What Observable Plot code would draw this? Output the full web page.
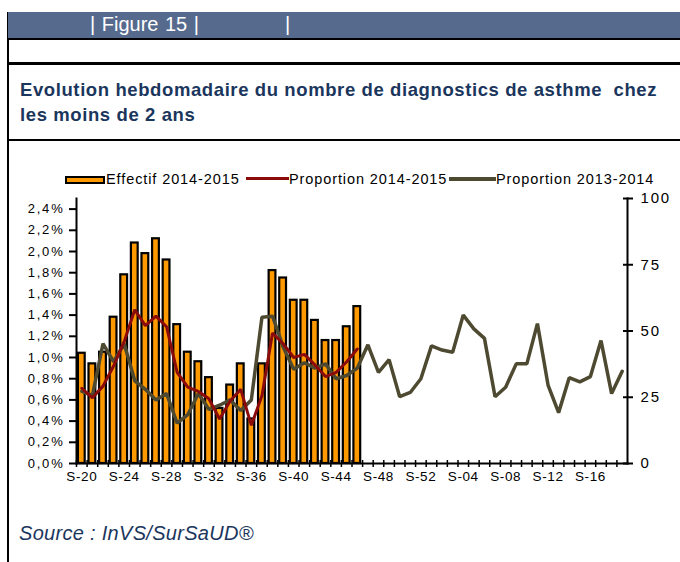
<!DOCTYPE html>
<html><head><meta charset="utf-8">
<script src="https://cdn.jsdelivr.net/npm/d3@7"></script>
<script src="https://cdn.jsdelivr.net/npm/@observablehq/plot@0.6"></script>
<style>
body{margin:0;background:#fff;font-family:"Liberation Sans",Arial,sans-serif;}
#wrap{position:relative;width:680px;height:562px;overflow:hidden;background:#fff;}
.abs{position:absolute;}
#header{left:8px;top:12px;width:672px;height:26px;background:#566a8d;}
#header span{position:absolute;top:1px;color:#fff;font-size:20px;white-space:pre;}
#title{left:20px;top:77px;color:#1b365d;font-weight:bold;font-size:18.5px;letter-spacing:0.6px;line-height:25px;white-space:pre;}
#source{left:19px;top:522px;color:#1b365d;font-style:italic;font-size:20px;letter-spacing:0.3px;white-space:pre;}
.leg{position:absolute;top:171px;font-size:14.5px;letter-spacing:0.9px;color:#000;white-space:pre;}
#chart{position:absolute;left:0;top:150px;}
#chart svg g[aria-label="y-axis tick label"] text{letter-spacing:1.8px;}
#chart svg g[aria-label="x-axis tick label"] text{letter-spacing:0.6px;}
</style></head><body><div id="wrap">
<div class="abs" style="left:7px;top:12px;width:2px;height:550px;background:#000"></div>
<div class="abs" id="header"><span style="left:82px;word-spacing:1px">| Figure 15 |</span><span style="left:277px">|</span></div>
<div class="abs" style="left:8px;top:38px;width:672px;height:2px;background:#000"></div>
<div class="abs" style="left:8px;top:62px;width:672px;height:3px;background:#000"></div>
<div class="abs" id="title">Evolution hebdomadaire du nombre de diagnostics de asthme  chez
les moins de 2 ans</div>
<div class="abs" style="left:8px;top:139px;width:672px;height:2px;background:#000"></div>
<div id="legend"></div>
<div id="chart"></div>
<div class="abs" id="source">Source : InVS/SurSaUD®</div>
</div>
<script>
// Categories: weeks S-20 (2014) to S-19 (2015)
const weeks = ["S-20","S-21","S-22","S-23","S-24","S-25","S-26","S-27","S-28","S-29","S-30","S-31","S-32","S-33","S-34","S-35","S-36","S-37","S-38","S-39","S-40","S-41","S-42","S-43","S-44","S-45","S-46","S-47","S-48","S-49","S-50","S-51","S-52","S-01","S-02","S-03","S-04","S-05","S-06","S-07","S-08","S-09","S-10","S-11","S-12","S-13","S-14","S-15","S-16","S-17","S-18","S-19"];
const xTickLabels = ["S-20","S-24","S-28","S-32","S-36","S-40","S-44","S-48","S-52","S-04","S-08","S-12","S-16"];
// Effectif 2014-2015 (right axis, counts)
const effectif20142015 = [41.6,37.6,42,55.2,71.2,83.2,79.2,84.8,76.8,52.4,42,38.4,32.4,20.8,29.6,37.6,16.8,37.6,72.8,70,61.6,61.6,54,46.4,46.4,51.6,59.2];
// Proportion 2014-2015 (left axis, %)
const proportion20142015 = [0.71,0.62,0.73,0.92,1.15,1.45,1.30,1.39,1.29,0.86,0.72,0.68,0.61,0.42,0.59,0.70,0.36,0.64,1.23,1.13,1.00,1.03,0.93,0.82,0.86,0.96,1.08];
// Proportion 2013-2014 (left axis, %)
const proportion20132014 = [0.68,0.64,1.13,0.96,1.13,0.78,0.70,0.60,0.66,0.38,0.46,0.66,0.51,0.55,0.60,0.50,0.60,1.38,1.39,1.10,0.89,0.95,0.90,0.94,0.80,0.83,0.90,1.12,0.86,0.98,0.63,0.67,0.80,1.11,1.07,1.05,1.40,1.27,1.18,0.63,0.72,0.94,0.94,1.32,0.74,0.48,0.81,0.77,0.82,1.16,0.66,0.87];
const leftTicks = [0,0.2,0.4,0.6,0.8,1.0,1.2,1.4,1.6,1.8,2.0,2.2,2.4];
const rightTicks = [0,25,50,75,100];
const leftMax = 2.5, rightMax = 100;
const seriesNames = ["Effectif 2014-2015","Proportion 2014-2015","Proportion 2013-2014"];
const colors = {bar:"#ff9900", red:"#8b0a0a", gray:"#4e4a31"};

const toLeft = v => v * leftMax / rightMax;
const bars = effectif20142015.map((n,i)=>({week:weeks[i], n}));
const red = proportion20142015.map((p,i)=>({week:weeks[i], p}));
const gray = proportion20132014.map((p,i)=>({week:weeks[i], p}));

const W = 680, H = 340, mL = 76, mR = 53, mT = 48, mB = 27;
const bw = (W - mL - mR) / weeks.length;

const chart = Plot.plot({
  width: W, height: H,
  marginLeft: mL, marginRight: mR, marginTop: mT, marginBottom: mB,
  style: {fontFamily: '"Liberation Sans", Arial, sans-serif', fontSize: "13px", color: "#000", background: "transparent", overflow: "visible"},
  x: {type: "band", domain: weeks, paddingInner: 0.36, paddingOuter: 0.18, axis: null, label: null},
  y: {domain: [0, leftMax], axis: null, label: null},
  marks: [
    Plot.barY(bars, {x: "week", y: d => toLeft(d.n), fill: colors.bar, stroke: "#000", strokeWidth: 2.2}),
    Plot.line(gray, {x: "week", y: "p", stroke: colors.gray, strokeWidth: 3.5, strokeLinejoin: "miter"}),
    Plot.line(red, {x: "week", y: "p", stroke: colors.red, strokeWidth: 3, strokeLinejoin: "miter"}),
    Plot.frame({anchor: "left", stroke: "#000", strokeWidth: 2}),
    Plot.frame({anchor: "right", stroke: "#000", strokeWidth: 2}),
    Plot.frame({anchor: "bottom", stroke: "#000", strokeWidth: 2}),
    Plot.axisY(leftTicks, {anchor: "left", label: null, tickSize: 7, tickPadding: 5, strokeWidth: 2,
      tickFormat: d => d.toFixed(1).replace(".", ",") + "%", fontSize: 13}),
    Plot.axisY(rightTicks.map(toLeft), {anchor: "right", label: null, tickSize: 5, tickPadding: 8, strokeWidth: 2,
      tickFormat: d => String(Math.round(d * rightMax / leftMax)), fontSize: 15}),
    Plot.axisY(rightTicks.map(toLeft), {anchor: "right", label: null, tickSize: -5, strokeWidth: 2, tickFormat: () => ""}),
    Plot.axisX(weeks, {anchor: "bottom", label: null, tickSize: 4, strokeWidth: 1.5, dx: -bw/2, tickFormat: () => ""}),
    Plot.axisX(weeks, {anchor: "bottom", label: null, tickSize: -3, strokeWidth: 1.5, dx: -bw/2, tickFormat: () => ""}),
    Plot.axisX(xTickLabels, {anchor: "bottom", label: null, tickSize: 0, tickPadding: 8, fontSize: 13.5})
  ]
});
document.getElementById("chart").appendChild(chart);

// Legend
const legend = document.getElementById("legend");
const items = [
  {name: seriesNames[0], sw: `<div style="position:absolute;left:65px;top:176px;width:36px;height:4px;background:${colors.bar};border:2px solid #000"></div>`, tx: 106},
  {name: seriesNames[1], sw: `<div style="position:absolute;left:246px;top:177px;width:43px;height:3px;background:${colors.red}"></div>`, tx: 289},
  {name: seriesNames[2], sw: `<div style="position:absolute;left:449px;top:177px;width:47px;height:4px;background:${colors.gray}"></div>`, tx: 496}
];
legend.innerHTML = items.map(it => it.sw + `<div class="leg" style="left:${it.tx}px">${it.name}</div>`).join("");
</script>
</body></html>
